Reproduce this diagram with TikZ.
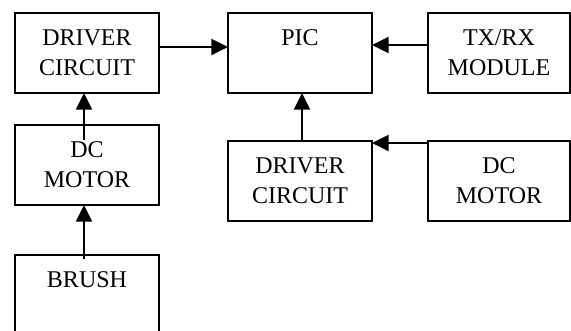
\documentclass[tikz,border=0pt]{standalone}
\usepackage{fontspec}
\setmainfont{Liberation Serif}
\usepackage{tikz}
\usetikzlibrary{arrows, arrows.meta, positioning, calc}
\tikzstyle{arrow} = [line width=1.7pt, -{Triangle[length=12.5pt, width=12pt]}]
\tikzstyle{block} = [rectangle, minimum width=108pt, minimum height=60pt, align=center, draw=black, line width=1.3pt, outer sep=0pt, font=\fontsize{18}{22.5}\selectfont]

\begin{document}
\begin{tikzpicture}
    \clip (0,0) rectangle (428.25pt,-247.5pt);

    % Top row
    \node (drv1) [block] at (65.25pt,-39.75pt) {DRIVER\\CIRCUIT};
    \node (pic) [block, right=51.75pt of drv1] {PIC\\\mbox{}};
    \node (trx) [block, right=42pt of pic, minimum width=106.5pt] {TX/RX\\MODULE};

    % Left column
    \node (mot1) [block, below=24pt of drv1] {DC\\MOTOR};
    \node (brush) [block, below=37.5pt of mot1] {BRUSH\\\mbox{}};

    % Right side
    \node (drv2) [block, below=36pt of pic] {DRIVER\\CIRCUIT};
    \node (mot2) [block, right=42pt of drv2, minimum width=106.5pt] {DC\\MOTOR};

    % Arrows
    \draw [arrow] ([yshift=4.5pt]drv1.east) -- ([yshift=4.5pt]pic.west);
    \draw [arrow] ([yshift=6pt]trx.west) -- ([yshift=6pt]pic.east);
    \draw [arrow] ([xshift=1.5pt]drv2.north) -- ([xshift=1.5pt]pic.south);
    \draw [arrow] ([yshift=-1.5pt]mot2.north west) -- ([yshift=-1.5pt]drv2.north east);
    \draw [arrow] ([xshift=-2.25pt,yshift=-11pt]mot1.north) -- ([xshift=-2.25pt]drv1.south);
    \draw [arrow] ([xshift=-2.25pt,yshift=-3pt]brush.north) -- ([xshift=-2.25pt]mot1.south);
\end{tikzpicture}
\end{document}
